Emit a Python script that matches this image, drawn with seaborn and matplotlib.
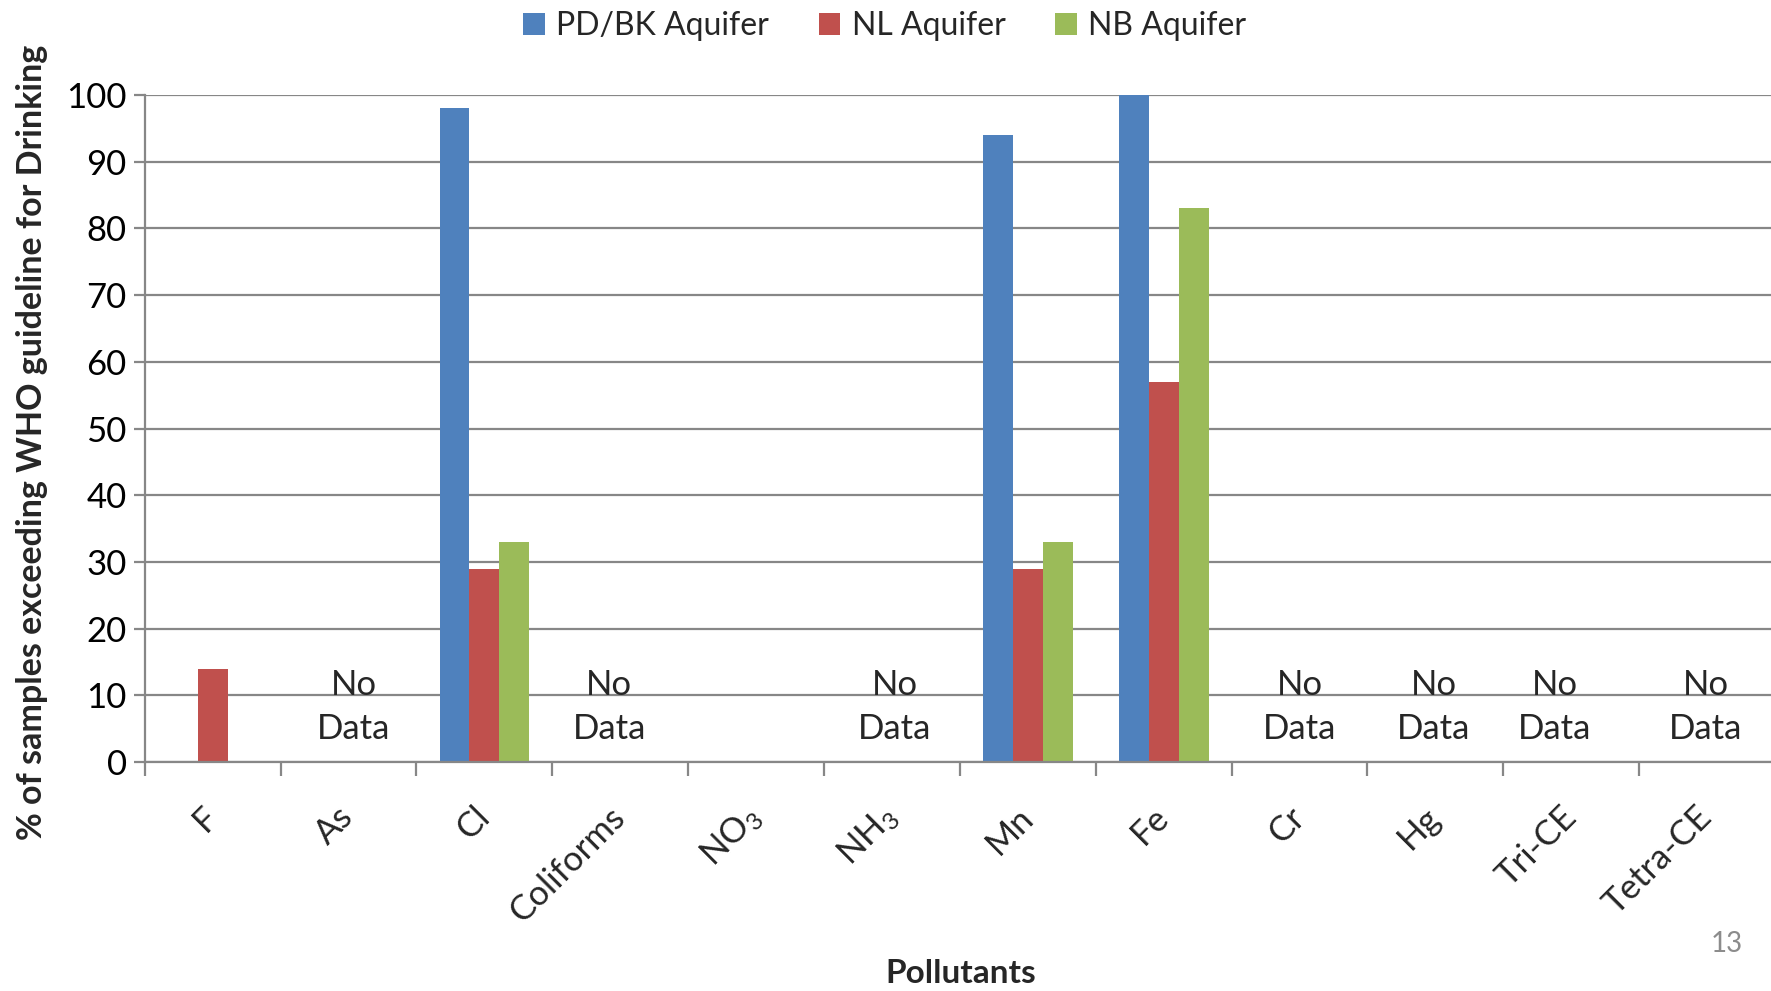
import matplotlib
matplotlib.use("Agg")
import matplotlib.pyplot as plt
from matplotlib.patches import Patch
from matplotlib.ticker import FixedLocator, MultipleLocator
import numpy as np
import pandas as pd
import seaborn as sns

# Pollutants and the share of samples (%) above the WHO drinking-water guideline
pollutants = ["F", "As", "Cl", "Coliforms", "NO$_\\mathregular{3}$", "NH$_\\mathregular{3}$",
              "Mn", "Fe", "Cr", "Hg", "Tri-CE", "Tetra-CE"]
aquifers = ["PD/BK Aquifer", "NL Aquifer", "NB Aquifer"]
pd_bk = [0, 0, 98, 0, 0, 0, 94, 100, 0, 0, 0, 0]
nl = [14, 0, 29, 0, 0, 0, 29, 57, 0, 0, 0, 0]
nb = [0, 0, 33, 0, 0, 0, 33, 83, 0, 0, 0, 0]
no_data = ["As", "Coliforms", "NH$_\\mathregular{3}$", "Cr", "Hg", "Tri-CE", "Tetra-CE"]
# small horizontal nudges of the "No Data" notes (in category units)
no_data_shift = [0.04, -0.08, 0.02, 0.0, -0.01, -0.12, -0.01]

colors = ["#4F81BD", "#C0504D", "#9BBB59"]
grid_grey = "#878787"

df = pd.DataFrame({
    "Pollutant": pollutants * 3,
    "Aquifer": [a for a in aquifers for _ in pollutants],
    "Percent": pd_bk + nl + nb,
})

sns.set_theme(style="white")
plt.rcParams["font.family"] = ["Lato", "DejaVu Sans"]
plt.rcParams["mathtext.default"] = "regular"

fig = plt.figure(figsize=(17.71, 9.91), dpi=100)
ax = fig.add_axes([0.0817, 0.2311, 0.9206, 0.673])

sns.barplot(data=df, x="Pollutant", y="Percent", hue="Aquifer", order=pollutants,
            hue_order=aquifers, palette=colors, width=0.66, saturation=1,
            linewidth=0, errorbar=None, legend=False, ax=ax, zorder=3)

ax.set_xlim(-0.5, len(pollutants) - 0.5)
ax.set_ylim(0, 100)
ax.yaxis.set_major_locator(MultipleLocator(10))
ax.grid(axis="y", color=grid_grey, linewidth=1.6, zorder=0)
ax.grid(axis="x", visible=False)

for side in ["top", "right"]:
    ax.spines[side].set_visible(False)
for side in ["left", "bottom"]:
    ax.spines[side].set_color(grid_grey)
    ax.spines[side].set_linewidth(1.6)
    ax.spines[side].set_zorder(4)

ax.tick_params(axis="y", which="major", direction="out", length=8, width=1.6,
               color=grid_grey, labelsize=25, pad=5, left=True, labelcolor="black")
ax.set_xticks(range(len(pollutants)))
ax.set_xticklabels(pollutants, rotation=45, ha="right", va="center",
                   rotation_mode="anchor", fontsize=25)
ax.tick_params(axis="x", which="major", length=0, pad=36)
ax.xaxis.set_minor_locator(FixedLocator(np.arange(-0.5, len(pollutants), 1.0)))
ax.tick_params(axis="x", which="minor", direction="out", length=10, width=1.6,
               color=grid_grey, bottom=True)

ax.set_xlabel("")
ax.set_ylabel("")

# "No Data" notes for pollutants without measurements
for name, dx in zip(no_data, no_data_shift):
    i = pollutants.index(name) + dx
    ax.text(i, 11.6, "No", ha="center", va="center", fontsize=25, zorder=5)
    ax.text(i, 5.0, "Data", ha="center", va="center", fontsize=25, zorder=5)

fig.text(0.5425, 0.018, "Pollutants", ha="center", va="center",
         fontsize=24, fontweight="bold")
fig.text(0.018, 0.554, "% of samples exceeding WHO guideline for Drinking",
         rotation=90, ha="center", va="center", fontsize=24.5, fontweight="bold")
fig.text(0.975, 0.047, "13", ha="center", va="center", fontsize=20, color="#8C8C8C")

handles = [Patch(facecolor=c, edgecolor="none", label=a) for a, c in zip(aquifers, colors)]
fig.legend(handles=handles, loc="center", bbox_to_anchor=(0.4995, 0.974), ncol=3,
           frameon=False, fontsize=23, handlelength=0.68, handleheight=0.68,
           handletextpad=0.35, columnspacing=1.55, borderaxespad=0)

fig.savefig("out.png", dpi=100, facecolor="white")
